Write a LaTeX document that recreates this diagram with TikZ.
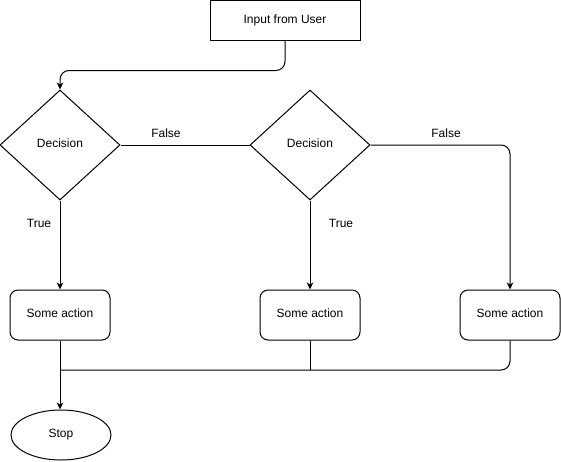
\documentclass[tikz,border=0pt]{standalone}
\usepackage{fontspec}
\setmainfont{Liberation Sans}
\usetikzlibrary{shapes.geometric,arrows.meta}
\begin{document}
\begin{tikzpicture}[x=1pt,y=1pt,
  every node/.style={font=\fontsize{12}{14}\selectfont},
  box/.style={draw, line width=1pt, rectangle, minimum width=150, minimum height=40, inner sep=0},
  actionbox/.style={draw, line width=1pt, rectangle, rounded corners=8, minimum width=100, minimum height=50, inner sep=0, text depth=1.5pt},
  decision/.style={draw, line width=1pt, diamond, minimum width=120, minimum height=110, inner sep=0},
  terminal/.style={draw, line width=1pt, ellipse, minimum width=100, minimum height=50, inner sep=0},
  conn/.style={draw, line width=1pt, rounded corners=9},
  arr/.style={conn, -{Stealth[length=7pt,width=6.5pt,inset=2pt]}},
  lbl/.style={inner sep=0}
]
\useasboundingbox (0,0) rectangle (561,-461);

% shapes
\node[box] (input) at (285,-20) {Input from User};
\node[decision] (d1) at (60,-145) {};
\node[decision] (d2) at (310,-145) {};
\node[lbl] (t1) at (60,-143) {Decision};
\node[lbl] (t2) at (310,-143) {Decision};
\node[actionbox] (a1) at (60,-315) {};
\node[actionbox] (a2) at (310,-315) {};
\node[actionbox] (a3) at (510,-315) {};
\node[lbl] (s1) at (60,-313) {Some action};
\node[lbl] (s2) at (310,-313) {Some action};
\node[lbl] (s3) at (510,-313) {Some action};
\node[terminal] (stop) at (61,-435) {Stop};

% branch labels
\node[lbl] (f1) at (166,-133) {False};
\node[lbl] (f2) at (446,-133) {False};
\node[lbl] (tr1) at (39,-223) {True};
\node[lbl] (tr2) at (341,-223) {True};

% connectors
\coordinate (join) at (60,-370);
\draw[arr] (input.south) -- ++(0,-30) -| (d1.north);
\draw[conn] (d1.east) -- (d2.west);
\draw[arr] (d2.east) -| (a3.north);
\draw[arr] (d1.south) -- (a1.north);
\draw[arr] (d2.south) -- (a2.north);
\draw[arr] (a1.south) -- (a1.south |- stop.north);
\draw[conn] (a2.south) -- (a2.south |- join);
\draw[conn] (a3.south) |- (join);
\end{tikzpicture}
\end{document}
